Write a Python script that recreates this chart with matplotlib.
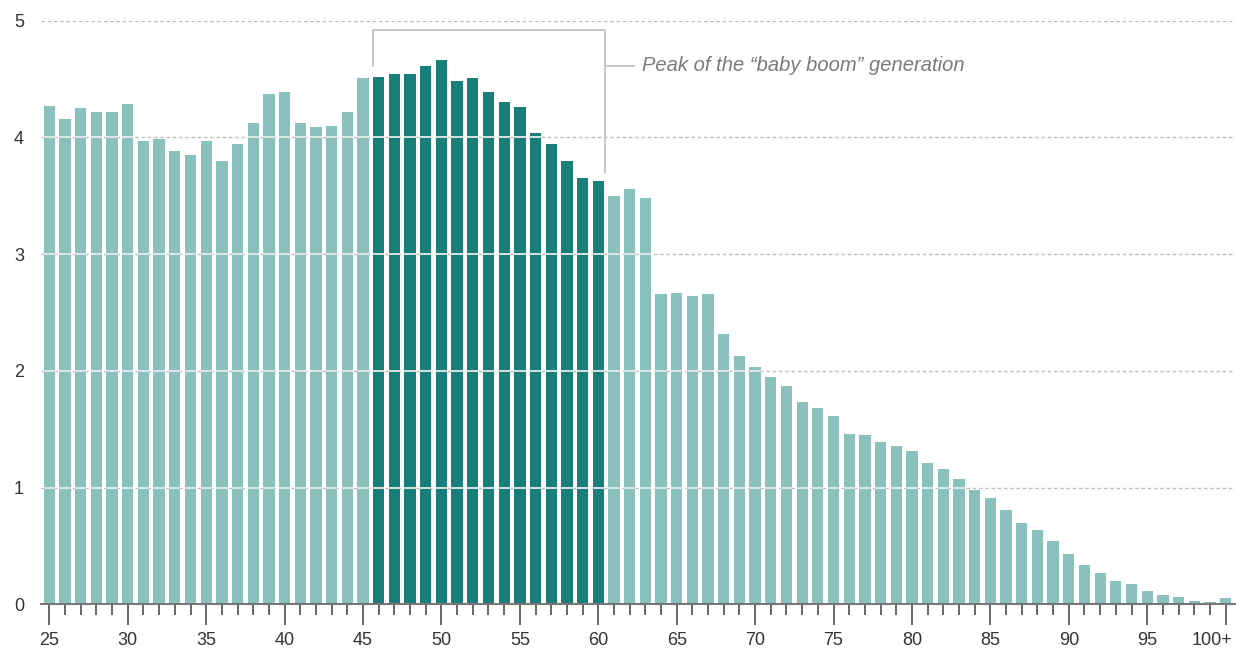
import numpy as np
import matplotlib
matplotlib.use("Agg")
import matplotlib.pyplot as plt
import matplotlib.transforms as mtransforms

# Ages 25 .. 100+ and the share of population (per cent) for each
ages = list(range(25, 101))
share = [
    4.27, 4.16, 4.25, 4.22, 4.22, 4.29, 3.97, 3.99, 3.88, 3.85,   # 25-34
    3.97, 3.80, 3.94, 4.12, 4.37, 4.39, 4.12, 4.09, 4.10, 4.22,   # 35-44
    4.51, 4.52, 4.54, 4.54, 4.61, 4.66, 4.48, 4.51, 4.39, 4.30,   # 45-54
    4.26, 4.04, 3.94, 3.80, 3.65, 3.63, 3.50, 3.56, 3.48, 2.66,   # 55-64
    2.67, 2.64, 2.66, 2.32, 2.13, 2.03, 1.95, 1.87, 1.73, 1.68,   # 65-74
    1.61, 1.46, 1.45, 1.39, 1.36, 1.31, 1.21, 1.16, 1.07, 0.98,   # 75-84
    0.91, 0.81, 0.70, 0.64, 0.54, 0.43, 0.34, 0.27, 0.20, 0.17,   # 85-94
    0.11, 0.08, 0.06, 0.03, 0.02, 0.05,                           # 95-100+
]
peak_start, peak_end = 46, 60
tick_ages = list(range(25, 101, 5))
tick_labels = [str(a) for a in tick_ages[:-1]] + ["100+"]
y_ticks = [0, 1, 2, 3, 4, 5]
note = "Peak of the \u201cbaby boom\u201d generation"

light = "#8bc1bd"
dark = "#177f78"
font = ["Liberation Sans", "DejaVu Sans"]
plt.rcParams["font.family"] = font

x = np.array(ages)
vals = np.array(share)
colors = [dark if peak_start <= a <= peak_end else light for a in ages]
w = 0.72

fig = plt.figure(figsize=(12.38, 6.53), dpi=100)
ax = fig.add_axes([0.0329, 0.0746, 0.9647, 0.8937])

ax.bar(x, vals, width=w, color=colors, zorder=2, linewidth=0)

# grid: dashed grey in the open, light solid stripe across bars
for lvl in y_ticks[1:]:
    ax.axhline(lvl, color="#bdbdbd", lw=1.0, ls=(0, (2.5, 2.0)), zorder=1)
    m = vals > lvl
    if m.any():
        ax.hlines(np.full(m.sum(), lvl), x[m] - w / 2, x[m] + w / 2,
                  color="#e4ecec", lw=1.3, zorder=3)

ax.set_xlim(24.45, 100.6)
ax.set_ylim(0, 5)

# bracket around the peak
bx0, bx1 = peak_start - w / 2 - 0.02, peak_end + 0.45
ax.plot([bx0, bx0, bx1, bx1], [4.61, 4.92, 4.92, 3.70],
        color="#c4c4c4", lw=1.3, zorder=4, clip_on=False)
ax.plot([bx1, bx1 + 1.8], [4.615, 4.615], color="#c4c4c4", lw=1.3, zorder=4)
ax.text(bx1 + 2.35, 4.615, note, fontsize=14.5, style="italic", color="#7a7a7a",
        va="center", ha="left",
        family=["Liberation Sans Narrow", "Liberation Sans", "DejaVu Sans"])

for s in ["top", "right", "left"]:
    ax.spines[s].set_visible(False)
ax.spines["bottom"].set_color("#777777")
ax.spines["bottom"].set_linewidth(1.5)
ax.spines["bottom"].set_zorder(5)

ax.set_yticks(y_ticks)
ax.set_yticklabels([str(v) for v in y_ticks])
ax.tick_params(axis="y", length=0, pad=12, labelsize=13, labelcolor="#333333")

ax.set_xticks(tick_ages)
ax.set_xticklabels(tick_labels)
ax.set_xticks(ages, minor=True)
ax.tick_params(axis="x", which="major", length=15, width=1.4, color="#666666",
               pad=5, labelsize=13, labelcolor="#333333")
ax.tick_params(axis="x", which="minor", length=8, width=1.4, color="#666666")

last = ax.get_xticklabels()[-1]
last.set_ha("right")
last.set_transform(last.get_transform() +
                   mtransforms.ScaledTranslation(7 / 100, 0, fig.dpi_scale_trans))

fig.savefig("out.png", dpi=100)
